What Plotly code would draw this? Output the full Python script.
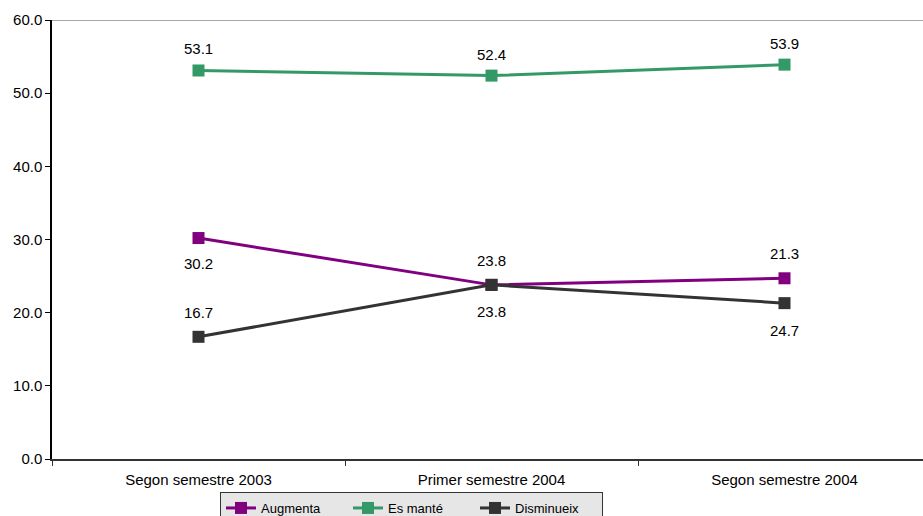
import plotly.graph_objects as go

categories = ["Segon semestre 2003", "Primer semestre 2004", "Segon semestre 2004"]
augmenta = [30.2, 23.8, 24.7]
es_mante = [53.1, 52.4, 53.9]
disminueix = [16.7, 23.8, 21.3]
y_ticks = [0, 10, 20, 30, 40, 50, 60]

# label text shown beside each point (as in the reference) and vertical offset in px
augmenta_labels = ["30.2", "23.8", "24.7"]
augmenta_shift = [-25, -27, -52]
es_mante_labels = ["53.1", "52.4", "53.9"]
es_mante_shift = [22, 21, 21]
disminueix_labels = ["16.7", "23.8", "21.3"]
disminueix_shift = [24, 24, 50]

series = [
    ("Augmenta", augmenta, "#800080", augmenta_labels, augmenta_shift),
    ("Es manté", es_mante, "#339966", es_mante_labels, es_mante_shift),
    ("Disminueix", disminueix, "#333333", disminueix_labels, disminueix_shift),
]

FONT = "Liberation Sans, Arial, sans-serif"

fig = go.Figure()
annotations = []
for name, vals, color, labels, shifts in series:
    fig.add_trace(go.Scatter(
        x=categories, y=vals, name=name, mode="lines+markers",
        line=dict(color=color, width=3),
        marker=dict(symbol="square", size=12, color=color),
    ))
    for c, v, t, s in zip(categories, vals, labels, shifts):
        annotations.append(dict(x=c, y=v, text=t, showarrow=False, yshift=s,
                                font=dict(family=FONT, size=15, color="#000000")))

W, H = 923, 516
ml, mr, mt, mb = 52, 0, 20, 57
plot_h = H - mt - mb
plot_w = W - ml - mr

fig.update_layout(
    width=W, height=H,
    margin=dict(l=ml, r=mr, t=mt, b=mb, autoexpand=False),
    paper_bgcolor="white", plot_bgcolor="white",
    font=dict(family=FONT, size=15, color="#000000"),
    annotations=annotations,
    showlegend=True,
    legend=dict(
        orientation="h", x=(220 - ml) / plot_w, xanchor="left",
        y=-(492 - (H - mb)) / plot_h, yanchor="top",
        bgcolor="#e6e6e6", bordercolor="#333333", borderwidth=1,
        font=dict(size=13), entrywidth=82, entrywidthmode="pixels",
        itemwidth=30,
    ),
    shapes=[dict(type="line", xref="paper", yref="y", x0=0, x1=1, y0=60, y1=60,
                 line=dict(color="#a6a6a6", width=2))],
)
fig.update_xaxes(
    type="category", range=[-0.5, 2.5 - 8 / 293], showgrid=False,
    showline=True, linecolor="#333333", linewidth=1.5,
    ticks="outside", tickson="boundaries", ticklen=5, tickcolor="#333333",
    tickfont=dict(size=15), ticklabelstandoff=6, fixedrange=True,
)
fig.update_yaxes(
    range=[0, 60], tickvals=y_ticks, tickformat=".1f", showgrid=False, zeroline=False,
    showline=True, linecolor="#000000", linewidth=1.5,
    ticks="outside", ticklen=5, tickcolor="#000000",
    tickfont=dict(size=15), fixedrange=True,
)

fig.write_html(
    "out.html",
    config={"displayModeBar": False},
    post_script="document.body.style.margin='0';document.body.style.overflow='hidden';",
)
